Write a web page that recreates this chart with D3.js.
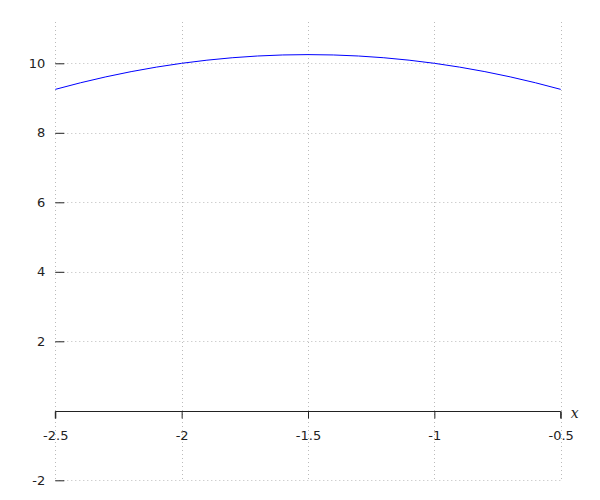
<!DOCTYPE html>
<html><head><meta charset="utf-8">
<script src="https://cdn.jsdelivr.net/npm/d3@7"></script>
<style>body{margin:0;background:#fff}svg{display:block}</style>
</head><body>
<script>
const xValues = [-2.5,-2.4,-2.3,-2.2,-2.1,-2.0,-1.9,-1.8,-1.7,-1.6,-1.5,-1.4,-1.3,-1.2,-1.1,-1.0,-0.9,-0.8,-0.7,-0.6,-0.5];
const yValues = [9.25,9.44,9.61,9.76,9.89,10.0,10.09,10.16,10.21,10.24,10.25,10.24,10.21,10.16,10.09,10.0,9.89,9.76,9.61,9.44,9.25];
const xTicks = [-2.5,-2,-1.5,-1,-0.5];
const yTicks = [-2,2,4,6,8,10];
const xLabel = "x";

const W = 600, H = 500;
const svg = d3.select("body").append("svg").attr("width", W).attr("height", H);
const x = d3.scaleLinear().domain([-2.5,-0.5]).range([55.3,560.7]);
const y = d3.scaleLinear().domain([-2,10]).range([480.3,63.3]);
const yTop = 22;

const font = "DejaVu Sans, sans-serif";
// grid
const grid = svg.append("g").attr("stroke","#bbb").attr("stroke-width",1).attr("stroke-dasharray","1,3");
grid.selectAll("line.v").data(xTicks).join("line").attr("class","v")
  .attr("x1",d=>Math.round(x(d))+0.5).attr("x2",d=>Math.round(x(d))+0.5)
  .attr("y1",yTop).attr("y2",y(-2));
grid.selectAll("line.h").data(yTicks).join("line").attr("class","h")
  .attr("x1",x(-2.5)).attr("x2",x(-0.5))
  .attr("y1",d=>Math.round(y(d))+0.5).attr("y2",d=>Math.round(y(d))+0.5);

// x axis at y=0
const xAxis = d3.axisBottom(x).tickValues(xTicks).tickFormat(d=>String(d)).tickSize(7).tickPadding(12);
const gx = svg.append("g").attr("transform",`translate(0,${Math.round(y(0))+0.5})`).call(xAxis);
gx.select(".domain").attr("stroke","#222").attr("d",`M${x(-2.5)},7V0H${x(-0.5)}V7`);
gx.selectAll(".tick line").attr("stroke","#222");
gx.selectAll("text").attr("font-family",font).attr("font-size",13).attr("fill","#222");

// y axis ticks (no domain line)
const yAxis = d3.axisRight(y).tickValues(yTicks).tickFormat(d=>String(d)).tickSize(9).tickPadding(0);
const gy = svg.append("g").attr("transform",`translate(${x(-2.5)},0)`).call(yAxis);
gy.select(".domain").remove();
gy.selectAll(".tick line").attr("stroke","#222");
gy.selectAll("text").attr("font-family",font).attr("font-size",13).attr("fill","#222")
  .attr("text-anchor","end").attr("x",-10);

// x label
svg.append("text").attr("x",x(-0.5)+10).attr("y",y(0)+7)
  .attr("font-family","DejaVu Serif, serif").attr("font-style","italic").attr("font-size",14)
  .attr("fill","#222").text(xLabel);

// curve
const line = d3.line().x((d,i)=>x(xValues[i])).y(d=>y(d)).curve(d3.curveMonotoneX);
svg.append("path").datum(yValues).attr("d",line).attr("fill","none").attr("stroke","#0000ff").attr("stroke-width",1);
</script>
</body></html>
